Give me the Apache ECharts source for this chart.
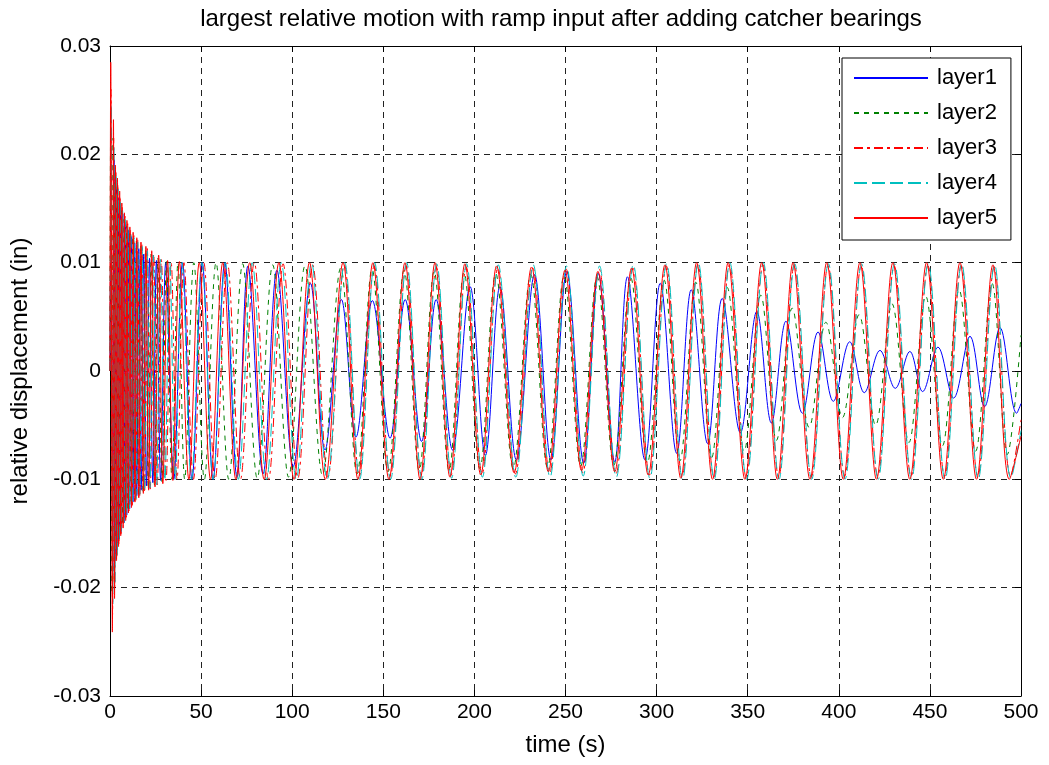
<!DOCTYPE html>
<html>
<head>
<meta charset="utf-8">
<script src="https://cdn.jsdelivr.net/npm/echarts@6/dist/echarts.min.js"></script>
<style>
html,body{margin:0;padding:0;background:#fff;}
#chart{width:1049px;height:765px;}
</style>
</head>
<body>
<div id="chart"></div>
<script>
const titleText = 'largest relative motion with ramp input after adding catcher bearings';
const xLabel = 'time (s)';
const yLabel = 'relative displacement (in)';
const seriesNames = ['layer1', 'layer2', 'layer3', 'layer4', 'layer5'];
const xTicks = [0, 50, 100, 150, 200, 250, 300, 350, 400, 450, 500];
const yTicks = [-0.03, -0.02, -0.01, 0, 0.01, 0.02, 0.03];

// extrema [time (s), displacement (in)]
const layer1 = [[0,0],[0.6,0.018],[1.5,-0.0185],[2.2,0.0195],[2.8,-0.0175],[3.4,0.017],[3.9,-0.0165],[4.5,0.016],[5.1,-0.0155],[5.7,0.0152],[6.3,-0.0148],[7.0,0.0145],[7.7,-0.014],[8.4,0.0137],[9.2,-0.0133],[10.0,0.013],[10.8,-0.0127],[11.7,0.0124],[12.6,-0.0121],[13.6,0.0118],[14.7,-0.0115],[15.8,0.0113],[17.1,-0.011],[18.5,0.0108],[20.0,-0.0106],[21.7,0.0104],[23.5,-0.0103],[25.5,0.0102],[27.8,-0.0101],[30.6,0.01],[35.0,-0.01],[39.8,0.01],[45.0,-0.01],[50.6,0.01],[56.6,-0.01],[63.0,0.01],[69.7,-0.0098],[75.7,0.0097],[84.0,-0.0095],[91.6,0.0093],[100.6,-0.0088],[110.0,0.0081],[118.0,-0.0073],[127.0,0.0066],[135.0,-0.0061],[144.0,0.0065],[153.7,-0.0062],[162.0,0.0066],[171.0,-0.0065],[179.0,0.0066],[188.0,-0.0073],[197.6,0.0078],[206.0,-0.0078],[214.0,0.0078],[223.0,-0.0082],[233.0,0.0089],[242.0,-0.0082],[250.7,0.0092],[260.0,-0.0085],[268.0,0.009],[277.0,-0.0084],[284.0,0.0087],[293.6,-0.0082],[302.0,0.0081],[311.0,-0.0076],[319.0,0.0075],[328.0,-0.0067],[336.0,0.0067],[346.0,-0.0057],[355.0,0.0055],[363.0,-0.0048],[371.0,0.0046],[380.0,-0.0039],[388.6,0.0036],[397.0,-0.0028],[406.0,0.0027],[414.0,-0.002],[422.6,0.0019],[431.0,-0.0016],[439.0,0.0018],[446.0,-0.0019],[454.4,0.0022],[463.0,-0.0025],[472.0,0.0032],[480.0,-0.0033],[488.5,0.004],[497.6,-0.0039],[500,-0.003]];

const layer2 = [[0,0],[0.3,0.021],[1.1,-0.0205],[1.7,0.0215],[2.3,-0.0195],[2.8,0.0185],[3.4,-0.0172],[3.9,0.017],[4.5,-0.016],[5.1,0.0158],[5.7,-0.015],[6.3,0.0148],[7.0,-0.0142],[7.7,0.014],[8.4,-0.0135],[9.1,0.0134],[9.9,-0.0129],[10.7,0.0128],[11.6,-0.0124],[12.5,0.0124],[13.5,-0.012],[14.5,0.012],[15.6,-0.0116],[16.8,0.0116],[18.1,-0.0112],[19.5,0.0112],[21.0,-0.0109],[22.6,0.0108],[24.4,-0.0105],[26.3,0.0104],[28.5,-0.0102],[31.0,0.0101],[34.0,-0.01],[37.3,0.01],[41.0,-0.01],[46.0,0.01],[51.8,-0.01],[58.2,0.01],[65.2,-0.01],[72.8,0.0099],[80.8,-0.0099],[89.3,0.0098],[98.0,-0.0098],[107.0,0.0097],[116.6,-0.0096],[126.6,0.0095],[135.6,-0.0095],[143.8,0.0094],[152.6,-0.0093],[161.4,0.0093],[169.7,-0.0092],[177.9,0.0092],[186.1,-0.0092],[194.3,0.0091],[203.0,-0.009],[211.7,0.009],[221.3,-0.009],[230.9,0.0089],[240.1,-0.0089],[249.2,0.0088],[258.3,-0.0088],[267.3,0.0087],[276.5,-0.0087],[285.8,0.0086],[294.9,-0.0085],[304.1,0.0084],[312.8,-0.0083],[321.5,0.0082],[330.2,-0.008],[338.8,0.0077],[348.0,-0.0074],[357.2,0.007],[365.8,-0.0064],[374.4,0.0058],[383.7,-0.0052],[392.9,0.0045],[402.0,-0.0043],[411.1,0.0052],[420.2,-0.005],[429.2,0.0062],[438.5,-0.0066],[447.7,0.0069],[456.9,-0.0069],[466.0,0.0075],[475.1,-0.0074],[484.1,0.0081],[492.5,-0.0077],[500,0.0033]];

const layer3 = [[0,0],[0.5,0.026],[1.4,-0.0225],[2.0,0.0215],[2.6,-0.02],[3.2,0.0185],[3.8,-0.0172],[4.3,0.0172],[4.9,-0.016],[5.5,0.0161],[6.1,-0.015],[6.8,0.0151],[7.5,-0.0142],[8.2,0.0143],[9.0,-0.0135],[9.7,0.0136],[10.5,-0.0129],[11.3,0.013],[12.2,-0.0124],[13.1,0.0125],[14.2,-0.012],[15.2,0.0121],[16.4,-0.0116],[17.6,0.0117],[19.0,-0.0112],[20.5,0.0113],[22.1,-0.0109],[24.0,0.0108],[26.0,-0.0105],[28.2,0.0103],[30.8,-0.0101],[33.6,0.01],[36.8,-0.01],[40.6,0.01],[45.8,-0.01],[51.5,0.01],[57.7,-0.01],[64.4,0.01],[71.6,-0.01],[79.2,0.01],[87.0,-0.01],[95.0,0.0099],[103.1,-0.0099],[111.2,0.0098],[119.6,-0.0098],[128.6,0.0098],[136.8,-0.0097],[145.0,0.0097],[153.8,-0.0097],[162.6,0.0097],[170.9,-0.0096],[179.1,0.0096],[187.3,-0.0096],[195.5,0.0096],[204.2,-0.0095],[212.9,0.0095],[222.5,-0.0095],[232.1,0.0095],[241.3,-0.0094],[250.4,0.0094],[259.5,-0.0094],[268.5,0.0094],[277.7,-0.0095],[287.0,0.0095],[296.1,-0.0096],[305.3,0.0097],[314.0,-0.0097],[322.7,0.0098],[331.4,-0.0098],[340.0,0.0098],[349.2,-0.0098],[358.4,0.0098],[367.0,-0.0098],[375.6,0.0098],[384.9,-0.0098],[394.1,0.0097],[403.2,-0.0097],[412.3,0.0097],[421.4,-0.0097],[430.4,0.0097],[439.7,-0.0097],[448.9,0.0097],[458.1,-0.0097],[467.2,0.0097],[476.3,-0.0097],[485.3,0.0096],[494.3,-0.0097],[500,-0.0045]];

const layer4 = [[0,0],[0.6,0.0245],[1.5,-0.0215],[2.1,0.0208],[2.7,-0.0195],[3.3,0.0182],[3.9,-0.017],[4.4,0.0168],[5.0,-0.0157],[5.6,0.0158],[6.2,-0.0148],[6.9,0.0148],[7.6,-0.014],[8.3,0.014],[9.0,-0.0133],[9.8,0.0134],[10.6,-0.0127],[11.4,0.0128],[12.3,-0.0122],[13.2,0.0123],[14.2,-0.0118],[15.2,0.0119],[16.3,-0.0114],[17.6,0.0115],[18.9,-0.0111],[20.4,0.0111],[21.9,-0.0108],[23.7,0.0107],[25.6,-0.0105],[27.7,0.0103],[30.1,-0.0101],[32.8,0.01],[35.8,-0.01],[39.5,0.01],[44.7,-0.01],[50.4,0.01],[56.6,-0.01],[63.3,0.01],[70.4,-0.01],[78.0,0.01],[85.9,-0.01],[94.0,0.01],[102.2,-0.01],[110.6,0.01],[119.2,-0.01],[128.8,0.01],[137.0,-0.01],[145.2,0.01],[154.0,-0.01],[162.8,0.01],[171.1,-0.01],[179.3,0.0099],[187.5,-0.0099],[195.7,0.0099],[204.4,-0.0098],[213.1,0.0098],[222.7,-0.0098],[232.3,0.0098],[241.5,-0.0098],[250.6,0.0097],[259.7,-0.0097],[268.7,0.0097],[277.9,-0.0098],[287.2,0.0098],[296.3,-0.0099],[305.5,0.0099],[314.2,-0.01],[322.9,0.01],[331.6,-0.01],[340.2,0.01],[349.4,-0.01],[358.6,0.01],[367.2,-0.01],[375.8,0.0099],[385.1,-0.01],[394.3,0.0099],[403.4,-0.01],[412.5,0.0099],[421.6,-0.01],[430.6,0.0099],[439.9,-0.01],[449.1,0.0099],[458.3,-0.01],[467.4,0.0099],[476.5,-0.01],[485.5,0.0098],[494.5,-0.0099],[500,-0.0055]];

const layer5 = [[0,0],[0.4,0.0285],[1.3,-0.0241],[1.9,0.0232],[2.5,-0.021],[3.0,0.019],[3.6,-0.0175],[4.1,0.0178],[4.7,-0.0162],[5.3,0.0166],[5.9,-0.0152],[6.5,0.0155],[7.2,-0.0145],[7.9,0.0146],[8.6,-0.0138],[9.3,0.0139],[10.1,-0.0131],[10.9,0.0133],[11.8,-0.0126],[12.7,0.0128],[13.7,-0.0121],[14.7,0.0123],[15.8,-0.0117],[17.0,0.0119],[18.3,-0.0113],[19.7,0.0115],[21.2,-0.011],[22.9,0.0111],[24.7,-0.0107],[26.7,0.0107],[29.0,-0.0104],[31.6,0.0102],[34.5,-0.0101],[38.1,0.0101],[43.3,-0.01],[49.0,0.01],[55.2,-0.01],[61.9,0.01],[69.1,-0.01],[76.7,0.01],[84.6,-0.01],[92.7,0.01],[101.0,-0.01],[109.5,0.01],[118.2,-0.01],[127.9,0.01],[136.1,-0.01],[144.3,0.01],[153.1,-0.01],[161.9,0.01],[170.2,-0.01],[178.4,0.01],[186.6,-0.0098],[194.8,0.0099],[203.5,-0.0096],[212.2,0.0097],[221.8,-0.0094],[231.4,0.0096],[240.6,-0.0093],[249.7,0.0093],[258.8,-0.0092],[267.8,0.0092],[277.0,-0.0093],[286.3,0.0095],[295.4,-0.0096],[304.6,0.0098],[313.3,-0.0099],[322.0,0.01],[330.7,-0.01],[339.3,0.01],[348.5,-0.01],[357.7,0.01],[366.3,-0.01],[374.9,0.01],[384.2,-0.01],[393.4,0.01],[402.5,-0.01],[411.6,0.01],[420.7,-0.01],[429.7,0.01],[439.0,-0.01],[448.2,0.01],[457.4,-0.01],[466.5,0.01],[475.6,-0.01],[484.6,0.0098],[493.6,-0.01],[500,-0.006]];

const layerData = [layer1, layer2, layer3, layer4, layer5];
const colors = ['#0000ff', '#008000', '#ff0000', '#00bfbf', '#ff0000'];
const dashes = ['solid', [5, 5], [9, 4, 3, 4], [13, 5], 'solid'];

const FONT = 'Liberation Sans, Arial, Helvetica, sans-serif';
const chart = echarts.init(document.getElementById('chart'), null, {renderer: 'canvas'});

const gridL = 110, gridT = 46, gridR = 1049 - 1021, gridB = 765 - 696;

function yFmt(v) {
  const r = Math.round(v * 100) / 100;
  return r === 0 ? '0' : r.toFixed(2);
}

const axisLineStyle = {color: '#000', width: 1};
const option = {
  animation: false,
  backgroundColor: '#fff',
  grid: {left: gridL, top: gridT, right: gridR, bottom: gridB, containLabel: false},
  graphic: [{
    type: 'text', x: 561, y: 19,
    style: {text: titleText, font: '24px ' + FONT, fill: '#000', textAlign: 'center', textVerticalAlign: 'middle'}
  }],
  legend: {
    orient: 'vertical', left: 842, top: 58,
    backgroundColor: '#fff', borderColor: '#000', borderWidth: 1,
    padding: [9, 14, 11, 11],
    itemWidth: 74, itemHeight: 14, itemGap: 13,
    itemStyle: {opacity: 0},
    textStyle: {fontSize: 22, fontFamily: FONT, color: '#000', padding: [0, 0, 0, 4]},
    data: seriesNames
  },
  xAxis: [{
    type: 'value', min: 0, max: 500, interval: 50,
    name: xLabel, nameLocation: 'middle', nameGap: 37,
    nameTextStyle: {fontSize: 24, fontFamily: FONT, color: '#000'},
    axisLine: {show: true, onZero: false, lineStyle: axisLineStyle},
    axisTick: {show: true, inside: true, length: 6, lineStyle: axisLineStyle},
    axisLabel: {fontSize: 21, fontFamily: FONT, color: '#000', margin: 6},
    splitLine: {show: true, lineStyle: {color: '#222', type: [6, 5], width: 1}}
  }, {
    type: 'value', min: 0, max: 500, interval: 50, position: 'top',
    axisLine: {show: true, onZero: false, lineStyle: axisLineStyle},
    axisTick: {show: true, inside: true, length: 6, lineStyle: axisLineStyle},
    axisLabel: {show: false}, splitLine: {show: false}
  }],
  yAxis: [{
    type: 'value', min: -0.03, max: 0.03, interval: 0.01,
    name: yLabel, nameLocation: 'middle', nameGap: 78,
    nameTextStyle: {fontSize: 24, fontFamily: FONT, color: '#000'},
    axisLine: {show: true, onZero: false, lineStyle: axisLineStyle},
    axisTick: {show: true, inside: true, length: 6, lineStyle: axisLineStyle},
    axisLabel: {fontSize: 21, fontFamily: FONT, color: '#000', margin: 9, formatter: yFmt},
    splitLine: {show: true, lineStyle: {color: '#222', type: [6, 5], width: 1}}
  }, {
    type: 'value', min: -0.03, max: 0.03, interval: 0.01, position: 'right',
    axisLine: {show: true, onZero: false, lineStyle: axisLineStyle},
    axisTick: {show: true, inside: true, length: 6, lineStyle: axisLineStyle},
    axisLabel: {show: false}, splitLine: {show: false}
  }],
  series: seriesNames.map((name, i) => ({
    name: name,
    type: 'line',
    xAxisIndex: 0, yAxisIndex: 0,
    data: layerData[i],
    symbol: 'none', showSymbol: false,
    smooth: 0.36,
    clip: true,
    color: colors[i],
    lineStyle: {color: colors[i], width: 1, type: dashes[i]},
    emphasis: {disabled: true}
  }))
};
chart.setOption(option);
</script>
</body>
</html>
